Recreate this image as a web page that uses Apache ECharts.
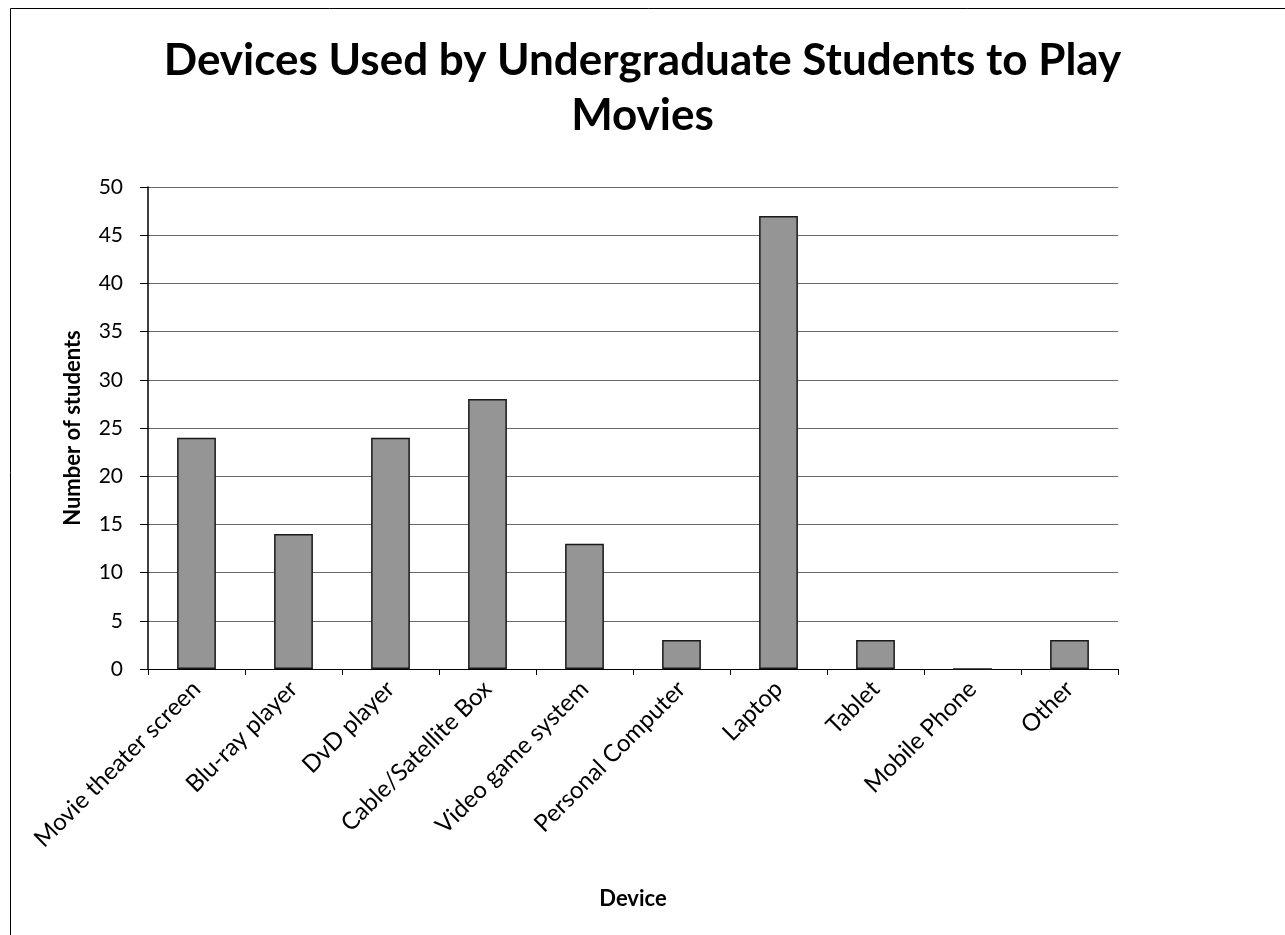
<!DOCTYPE html>
<html>
<head>
<meta charset="utf-8">
<script src="https://cdn.jsdelivr.net/npm/echarts@6/dist/echarts.min.js"></script>
<style>
  html, body { margin: 0; padding: 0; background: #fff; }
  #chart { width: 1285px; height: 935px; }
</style>
</head>
<body>
<div id="chart"></div>
<script>
const devices = [
  'Movie theater screen', 'Blu-ray player', 'DvD player', 'Cable/Satellite Box',
  'Video game system', 'Personal Computer', 'Laptop', 'Tablet', 'Mobile Phone', 'Other'
];
const students = [24, 14, 24, 28, 13, 3, 47, 3, 0, 3];
const yTicks = { min: 0, max: 50, interval: 5 };

const font = 'Lato, "Open Sans", sans-serif';
const chart = echarts.init(document.getElementById('chart'));

chart.setOption({
  backgroundColor: '#fff',
  animation: false,
  title: {
    text: 'Devices Used by Undergraduate Students to Play\nMovies',
    left: 'center',
    top: 28,
    textStyle: { fontFamily: font, fontSize: 44, fontWeight: 'bold', color: '#000', lineHeight: 55 }
  },
  graphic: [{
    type: 'rect',
    shape: { x: 10.5, y: 8.5, width: 1300, height: 940 },
    style: { fill: 'none', stroke: '#000', lineWidth: 1 }
  }],
  grid: { left: 148, right: 167, top: 187, bottom: 266 },
  xAxis: {
    type: 'category',
    data: devices,
    name: 'Device',
    nameLocation: 'middle',
    nameGap: 219,
    nameMoveOverlap: false,
    nameTextStyle: { fontFamily: font, fontSize: 22, fontWeight: 'bold', color: '#000' },
    axisLine: { lineStyle: { color: '#000', width: 1 } },
    axisTick: { show: true, length: 6, lineStyle: { color: '#000' } },
    axisLabel: { rotate: 45, fontFamily: font, fontSize: 24, color: '#000', margin: 16, interval: 0 }
  },
  yAxis: {
    type: 'value',
    min: yTicks.min,
    max: yTicks.max,
    interval: yTicks.interval,
    name: 'Number of students',
    nameLocation: 'middle',
    nameGap: 64,
    nameTextStyle: { fontFamily: font, fontSize: 22, fontWeight: 'bold', color: '#000' },
    axisLine: { show: true, lineStyle: { color: '#000', width: 1.5 } },
    axisTick: { show: true, length: 8, lineStyle: { color: '#000' } },
    axisLabel: { fontFamily: font, fontSize: 21, color: '#000', margin: 25 },
    splitLine: { lineStyle: { color: '#6a6a6a', width: 1 } }
  },
  series: [{
    type: 'bar',
    data: students,
    barWidth: '40%',
    itemStyle: { color: '#959595', borderColor: '#1a1a1a', borderWidth: 1.5 }
  }]
});
</script>
</body>
</html>
